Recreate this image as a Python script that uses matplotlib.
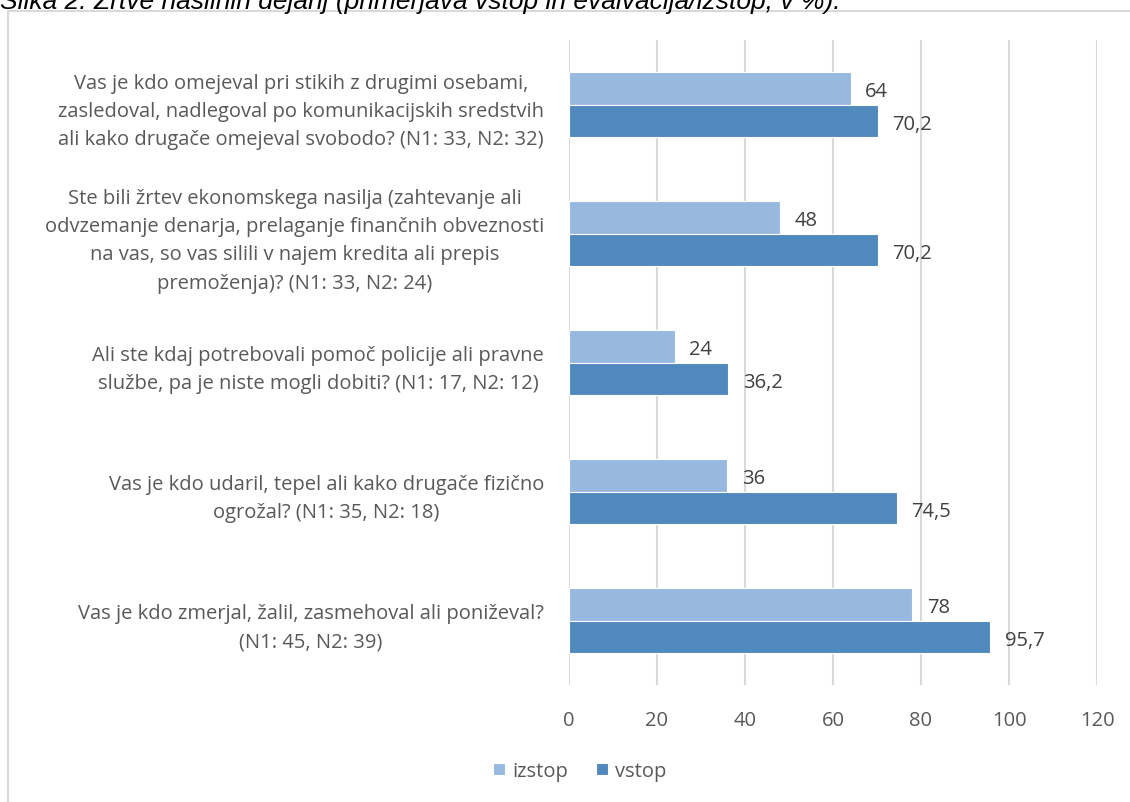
import matplotlib
matplotlib.use("Agg")
import matplotlib.pyplot as plt
from matplotlib.patches import Rectangle
import numpy as np

# Questions, top to bottom as in the chart
questions = [
    "Vas je kdo omejeval pri stikih z drugimi osebami,\nzasledoval, nadlegoval po komunikacijskih sredstvih\nali kako drugače omejeval svobodo? (N1: 33, N2: 32)",
    "Ste bili žrtev ekonomskega nasilja (zahtevanje ali\nodvzemanje denarja, prelaganje finančnih obveznosti\nna vas, so vas silili v najem kredita ali prepis\npremoženja)? (N1: 33, N2: 24)",
    "Ali ste kdaj potrebovali pomoč policije ali pravne\nslužbe, pa je niste mogli dobiti? (N1: 17, N2: 12)",
    "Vas je kdo udaril, tepel ali kako drugače fizično\nogrožal? (N1: 35, N2: 18)",
    "Vas je kdo zmerjal, žalil, zasmehoval ali poniževal?\n(N1: 45, N2: 39)",
]
izstop = [64, 48, 24, 36, 78]
vstop = [70.2, 70.2, 36.2, 74.5, 95.7]
xticks = [0, 20, 40, 60, 80, 100, 120]

c_izstop = "#97B9E0"
c_vstop = "#4F89BD"
text_col = "#595959"
fs = 14.5

plt.rcParams["font.family"] = ["Open Sans", "DejaVu Sans"]

fig = plt.figure(figsize=(11.3, 8.03), dpi=100)

# chart frame (runs off the right/bottom edge like the source crop)
fig.patches.append(Rectangle((8 / 1130, -0.1), 1.2, 1 - 12 / 803 + 0.1,
                             transform=fig.transFigure, fill=False,
                             edgecolor="#D9D9D9", linewidth=1.5))

# caption above the chart, cut at the top in the original
fig.text(0.0, 1 - 9 / 803, "Slika 2: Žrtve nasilnih dejanj (primerjava vstop in evalvacija/izstop, v %).",
         family="Liberation Sans", style="italic", fontsize=19, va="baseline", ha="left")

ax = fig.add_axes([569 / 1130, 1 - 686 / 803, (1097 - 569) / 1130, (686 - 41) / 803])

y = np.arange(len(questions))
h = 0.255
ax.barh(y - h / 2, izstop, height=h, color=c_izstop, edgecolor="white", linewidth=0.8, label="izstop", zorder=3)
ax.barh(y + h / 2, vstop, height=h, color=c_vstop, edgecolor="white", linewidth=0.8, label="vstop", zorder=3)

def fmt(v):
    return f"{v:g}".replace(".", ",")

for yi, a, b in zip(y, izstop, vstop):
    ax.text(a + 3.3, yi - h / 2 + 0.02, fmt(a), va="center", ha="left", fontsize=fs, color="#404040")
    ax.text(b + 3.3, yi + h / 2 + 0.02, fmt(b), va="center", ha="left", fontsize=fs, color="#404040")

ax.set_ylim(len(questions) - 0.5, -0.5)
ax.set_xlim(0, 120)
ax.set_xticks(xticks)
ax.set_xticklabels([str(t) for t in xticks], fontsize=fs, color=text_col)
ax.set_yticks(y)
ax.set_yticklabels(questions, fontsize=fs, color=text_col, multialignment="center", linespacing=1.55)
ax.tick_params(axis="both", length=0)
ax.tick_params(axis="x", pad=18)
ax.tick_params(axis="y", pad=18)
ax.grid(axis="x", color="#D9D9D9", linewidth=1.5, zorder=0)
for s in ax.spines.values():
    s.set_visible(False)

leg = fig.legend(loc="center", bbox_to_anchor=(0.513, 1 - 772 / 803), ncol=2, frameon=False,
                 fontsize=fs, handlelength=0.6, handleheight=0.6, handletextpad=0.35, columnspacing=1.4)
for t in leg.get_texts():
    t.set_color(text_col)

fig.savefig("out.png", dpi=100)
